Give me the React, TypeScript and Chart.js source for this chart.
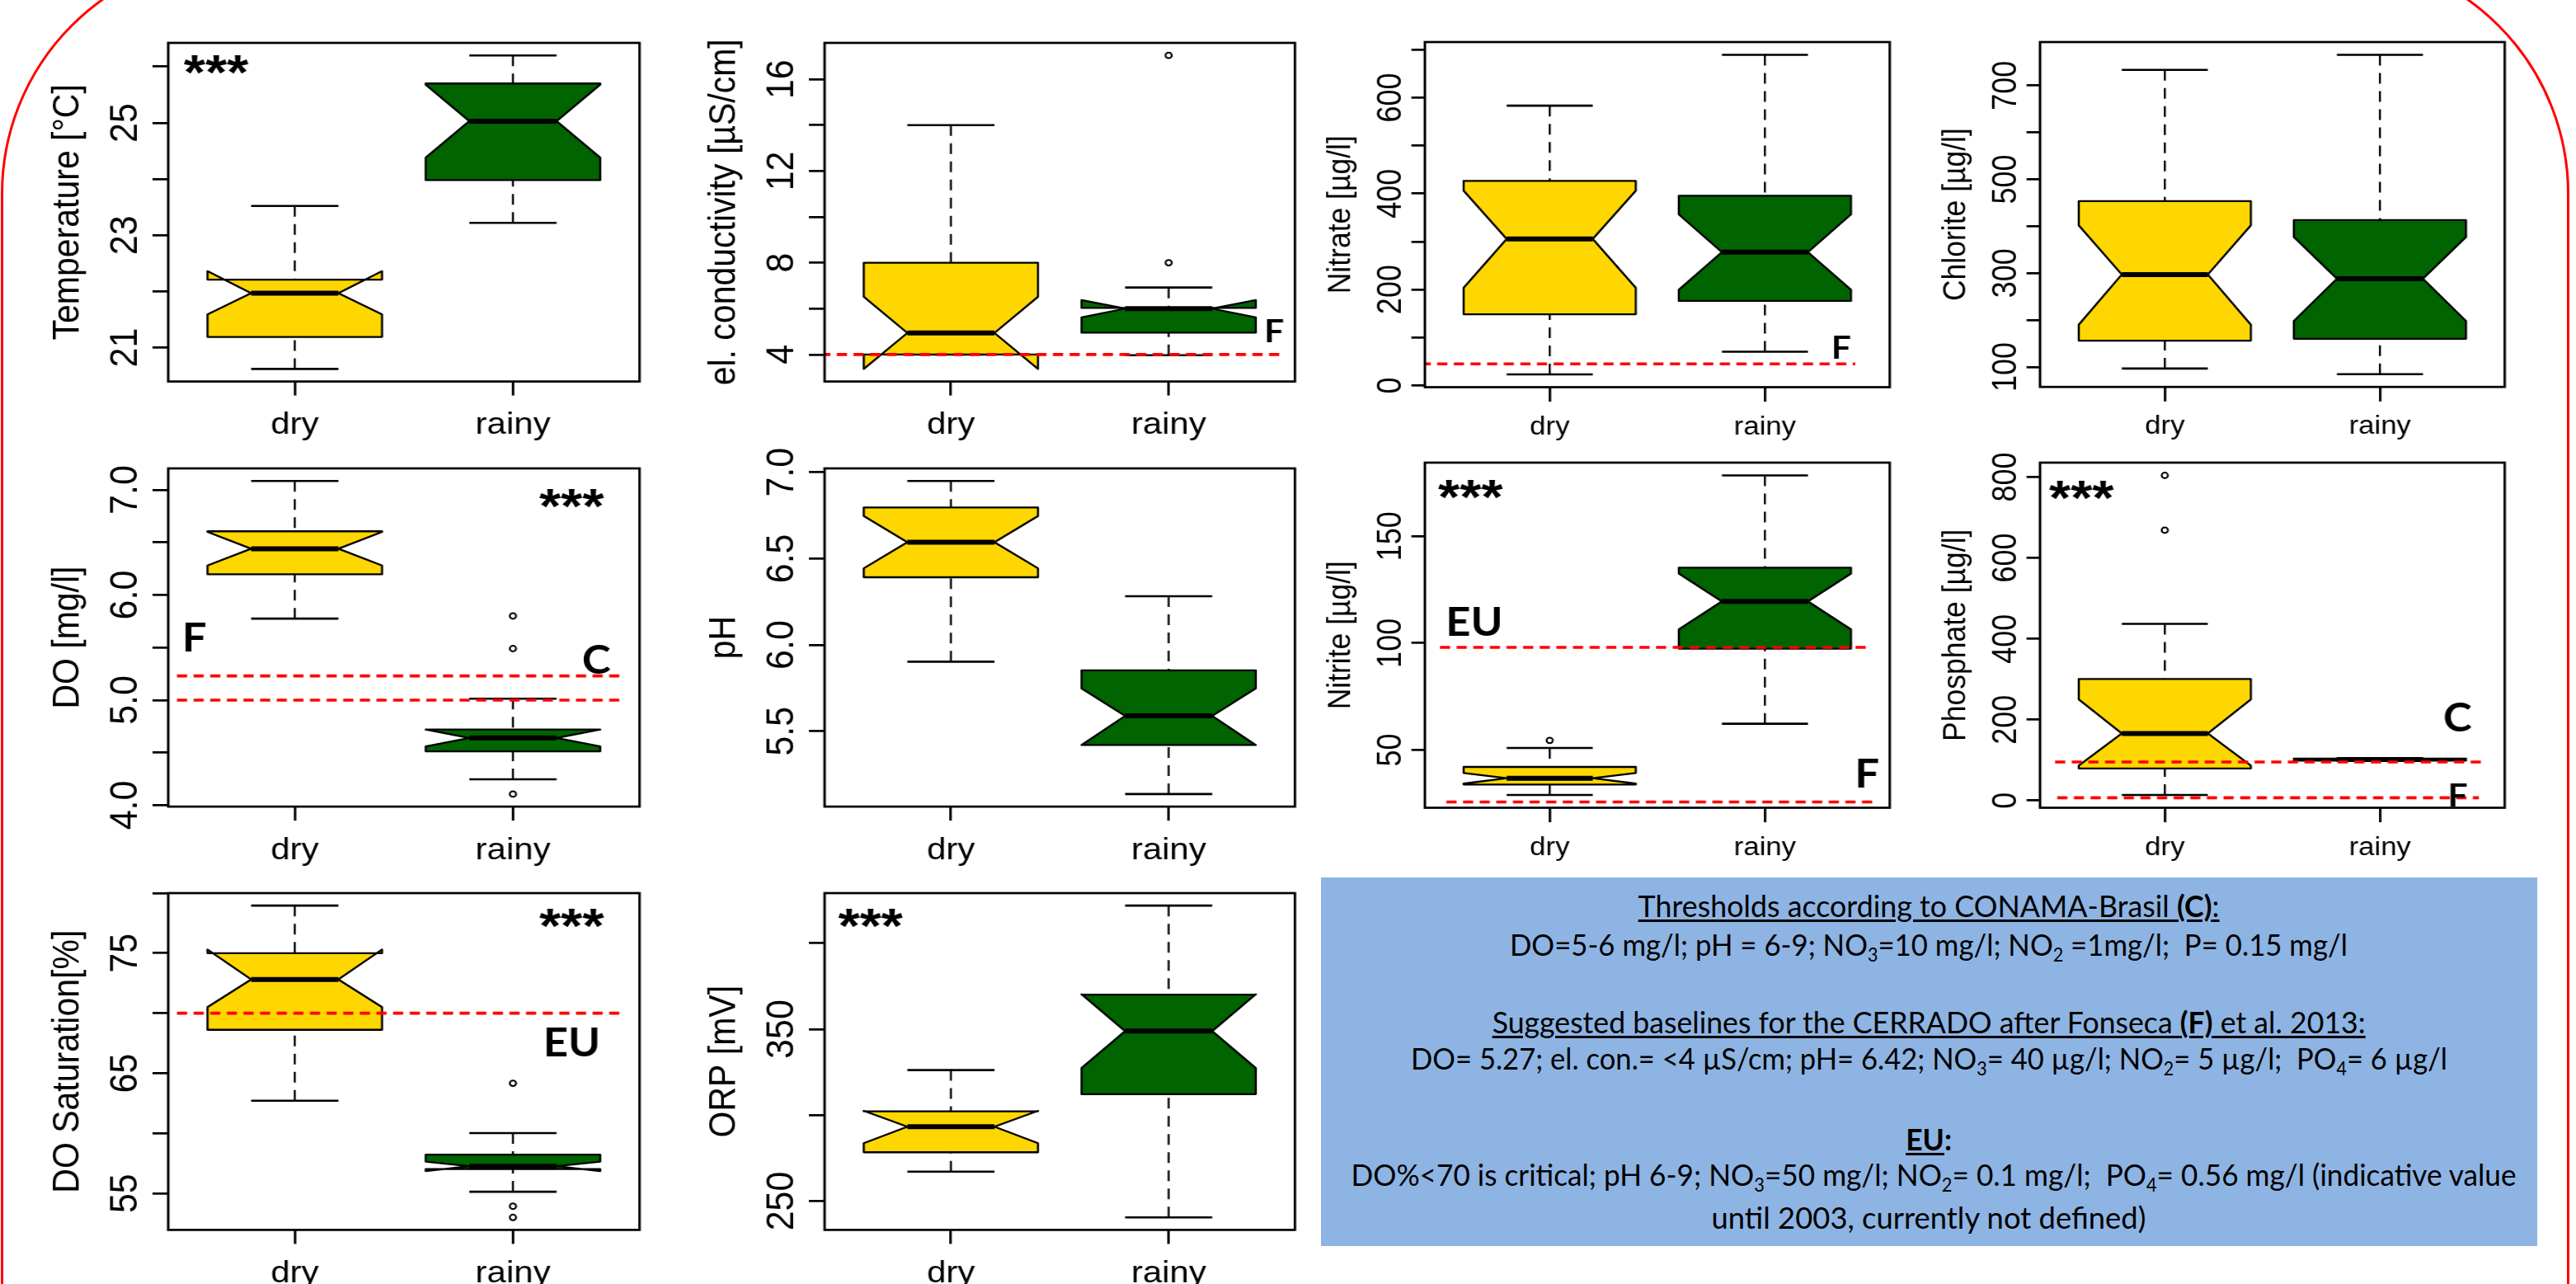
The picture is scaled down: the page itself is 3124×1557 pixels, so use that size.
import React, { useEffect, useLayoutEffect, useRef } from 'react';
import { Chart, registerables } from 'chart.js';

Chart.register(...registerables);

// Horizontal stretch of the R panels in the poster
const STRETCH = 1.12;

const categories = ['dry', 'rainy'];

// Stats per season: [lower whisker, Q1, median, Q3, upper whisker, notch low, notch high]
const temperatureDry = [20.62, 21.19, 21.97, 22.21, 23.52, 21.59, 22.36];
const temperatureRainy = [23.22, 23.98, 25.03, 25.7, 26.2, 24.38, 25.68];
const temperatureOutDry: number[] = [];
const temperatureOutRainy: number[] = [];
const temperatureTicks = [21, 22, 23, 24, 25, 26];
const temperatureTickLabels = ['21', '', '23', '', '25', ''];

const conductivityDry = [4.0, 4.0, 4.94, 8.0, 14.0, 3.37, 6.52];
const conductivityRainy = [3.97, 4.95, 6.0, 6.03, 6.92, 5.62, 6.37];
const conductivityOutDry: number[] = [];
const conductivityOutRainy = [8.0, 17.04];
const conductivityTicks = [4, 6, 8, 10, 12, 14, 16];
const conductivityTickLabels = ['4', '', '8', '', '12', '', '16'];
const conductivityThresholds = [4.0];

const nitrateDry = [23, 148.4, 305.4, 426.5, 583.5, 203.6, 406];
const nitrateRainy = [70.4, 176.2, 278, 395.6, 689.5, 199.5, 356.6];
const nitrateOutDry: number[] = [];
const nitrateOutRainy: number[] = [];
const nitrateTicks = [0, 100, 200, 300, 400, 500, 600, 700];
const nitrateTickLabels = ['0', '', '200', '', '400', '', '600', ''];
const nitrateThresholds = [45];

const chloriteDry = [96.5, 156, 297, 453.5, 733.3, 190, 402];
const chloriteRainy = [84.5, 160, 288, 413, 765.5, 198, 377];
const chloriteOutDry: number[] = [];
const chloriteOutRainy: number[] = [];
const chloriteTicks = [100, 200, 300, 400, 500, 600, 700];
const chloriteTickLabels = ['100', '', '300', '', '500', '', '700'];

const doDry = [5.775, 6.197, 6.44, 6.606, 7.085, 6.28, 6.6];
const doRainy = [4.247, 4.513, 4.64, 4.72, 5.013, 4.56, 4.72];
const doOutDry: number[] = [];
const doOutRainy = [4.106, 5.49, 5.8];
const doTicks = [4, 4.5, 5, 5.5, 6, 6.5, 7];
const doTickLabels = ['4.0', '', '5.0', '', '6.0', '', '7.0'];
const doThresholds = [5.23, 5.0];

const phDry = [5.903, 6.392, 6.595, 6.796, 6.95, 6.444, 6.747];
const phRainy = [5.136, 5.42, 5.589, 5.853, 6.282, 5.42, 5.748];
const phOutDry: number[] = [];
const phOutRainy: number[] = [];
const phTicks = [5.5, 6, 6.5, 7];
const phTickLabels = ['5.5', '6.0', '6.5', '7.0'];

const nitriteDry = [29, 33.9, 36.85, 42.1, 51, 34.3, 39.3];
const nitriteRainy = [62.3, 97.4, 119.5, 135.3, 178.4, 106.4, 132.5];
const nitriteOutDry = [54.5];
const nitriteOutRainy: number[] = [];
const nitriteTicks = [50, 100, 150];
const nitriteTickLabels = ['50', '100', '150'];
const nitriteThresholds = [98, 25.7];

const phosphateDry = [13.9, 79.6, 166, 300.8, 437, 86.5, 250.3];
const phosphateRainy = [98, 99, 101.5, 104, 105, 100, 103];
const phosphateOutDry = [668.5, 804];
const phosphateOutRainy: number[] = [];
const phosphateTicks = [0, 200, 400, 600, 800];
const phosphateTickLabels = ['0', '200', '400', '600', '800'];
const phosphateThresholds = [95.5, 7];

const doSatDry = [62.72, 68.62, 72.81, 75.0, 78.96, 70.51, 75.3];
const doSatRainy = [55.14, 57.03, 57.26, 58.23, 60.02, 56.85, 57.65];
const doSatOutDry: number[] = [];
const doSatOutRainy = [53.0, 53.93, 64.17];
const doSatTicks = [55, 60, 65, 70, 75, 80];
const doSatTickLabels = ['55', '', '65', '', '75', ''];
const doSatThresholds = [70];

const orpDry = [267.1, 278.4, 293.3, 302.2, 326.2, 283.7, 302.5];
const orpRainy = [240.5, 312.2, 348.9, 370.1, 421.9, 327.4, 370.3];
const orpOutDry: number[] = [];
const orpOutRainy: number[] = [];
const orpTicks = [250, 300, 350, 400];
const orpTickLabels = ['250', '', '350', ''];

const GA = { tickFont: 43, titleFont: 41, xFont: 37.5, yTickLen: 17, xTickLen: 17, tickLabelOffset: 34, titleOffset: 97.5, xLabelOffset: 63.5 };
const GB = { tickFont: 36, titleFont: 35.5, xFont: 31, yTickLen: 14.6, xTickLen: 17.6, tickLabelOffset: 26.4, titleOffset: 81.5, xLabelOffset: 57 };

const NOTE_FONTS: any = {
  star: 'bold 60px "Liberation Sans", Arial, sans-serif',
  L: 'bold 47px Lato, "Open Sans", sans-serif',
  S: 'bold 38px Lato, "Open Sans", sans-serif',
};

const PANELS: any[] = [
  { title: 'Temperature [°C]', dry: temperatureDry, rainy: temperatureRainy, outDry: temperatureOutDry, outRainy: temperatureOutRainy,
    ticks: temperatureTicks, tickLabels: temperatureTickLabels, thresholds: [], spans: [],
    notes: [{ text: '***', x: 0.641, y: 26.04, kind: 'star' }], box: { l: 204, t: 52.4, r: 775.5, b: 463 }, g: GA },
  { title: 'el. conductivity [µS/cm]', dry: conductivityDry, rainy: conductivityRainy, outDry: conductivityOutDry, outRainy: conductivityOutRainy,
    ticks: conductivityTicks, tickLabels: conductivityTickLabels, thresholds: conductivityThresholds, spans: [[0.4, 2.52]],
    notes: [{ text: 'F', x: 2.49, y: 5.03, kind: 'S' }], box: { l: 1000, t: 52.4, r: 1570.4, b: 463 }, g: GA },
  { title: 'Nitrate [µg/l]', dry: nitrateDry, rainy: nitrateRainy, outDry: nitrateOutDry, outRainy: nitrateOutRainy,
    ticks: nitrateTicks, tickLabels: nitrateTickLabels, thresholds: nitrateThresholds, spans: [[0.4, 2.42]],
    notes: [{ text: 'F', x: 2.36, y: 80, kind: 'S' }], box: { l: 1728, t: 50.7, r: 2291.7, b: 469.2 }, g: GB },
  { title: 'Chlorite [µg/l]', dry: chloriteDry, rainy: chloriteRainy, outDry: chloriteOutDry, outRainy: chloriteOutRainy,
    ticks: chloriteTicks, tickLabels: chloriteTickLabels, thresholds: [], spans: [],
    notes: [], box: { l: 2474, t: 51, r: 3037.5, b: 469.2 }, g: GB },
  { title: 'DO [mg/l]', dry: doDry, rainy: doRainy, outDry: doOutDry, outRainy: doOutRainy,
    ticks: doTicks, tickLabels: doTickLabels, thresholds: doThresholds, spans: [[0.46, 2.49], [0.46, 2.49]],
    notes: [{ text: '***', x: 2.27, y: 6.92, kind: 'star' }, { text: 'F', x: 0.545, y: 5.6, kind: 'L' }, { text: 'C', x: 2.384, y: 5.39, kind: 'L' }],
    box: { l: 204, t: 568.1, r: 775.5, b: 978.2 }, g: GA },
  { title: 'pH', dry: phDry, rainy: phRainy, outDry: phOutDry, outRainy: phOutRainy,
    ticks: phTicks, tickLabels: phTickLabels, thresholds: [], spans: [],
    notes: [], box: { l: 1000, t: 568.1, r: 1570.4, b: 978.2 }, g: GA },
  { title: 'Nitrite [µg/l]', dry: nitriteDry, rainy: nitriteRainy, outDry: nitriteOutDry, outRainy: nitriteOutRainy,
    ticks: nitriteTicks, tickLabels: nitriteTickLabels, thresholds: nitriteThresholds, spans: [[0.49, 2.49], [0.52, 2.52]],
    notes: [{ text: '***', x: 0.633, y: 172, kind: 'star' }, { text: 'EU', x: 0.65, y: 110, kind: 'L' }, { text: 'F', x: 2.48, y: 39.2, kind: 'L' }],
    box: { l: 1728, t: 560.7, r: 2291.7, b: 979.2 }, g: GB },
  { title: 'Phosphate [µg/l]', dry: phosphateDry, rainy: phosphateRainy, outDry: phosphateOutDry, outRainy: phosphateOutRainy,
    ticks: phosphateTicks, tickLabels: phosphateTickLabels, thresholds: phosphateThresholds, spans: [[0.49, 2.48], [0.5, 2.46]],
    notes: [{ text: '***', x: 0.614, y: 767.5, kind: 'star' }, { text: 'C', x: 2.363, y: 206, kind: 'L' }, { text: 'F', x: 2.367, y: 14, kind: 'S' }],
    box: { l: 2474, t: 560.7, r: 3037.5, b: 979.2 }, g: GB },
  { title: 'DO Saturation[%]', dry: doSatDry, rainy: doSatRainy, outDry: doSatOutDry, outRainy: doSatOutRainy,
    ticks: doSatTicks, tickLabels: doSatTickLabels, thresholds: doSatThresholds, spans: [[0.46, 2.49]],
    notes: [{ text: '***', x: 2.27, y: 77.9, kind: 'star' }, { text: 'EU', x: 2.27, y: 67.6, kind: 'L' }],
    box: { l: 204, t: 1083.1, r: 775.5, b: 1491.5 }, g: GA },
  { title: 'ORP [mV]', dry: orpDry, rainy: orpRainy, outDry: orpOutDry, outRainy: orpOutRainy,
    ticks: orpTicks, tickLabels: orpTickLabels, thresholds: [], spans: [],
    notes: [{ text: '***', x: 0.632, y: 414.4, kind: 'star' }], box: { l: 1000, t: 1083.1, r: 1570.4, b: 1491.5 }, g: GA },
];

const FILLS = ['#FFD700', '#006400'];

function drawBox(ctx: any, xs: any, ys: any, cx: number, st: number[], fill: string) {
  const [lw, q1, med, q3, uw, nlo, nhi] = st;
  const X = (v: number) => xs.getPixelForValue(v);
  const Y = (v: number) => ys.getPixelForValue(v);
  const w = 0.4;
  ctx.save();
  ctx.strokeStyle = '#000';
  ctx.lineCap = 'butt';
  ctx.lineWidth = 2.2;
  ctx.setLineDash([13, 9]);
  ctx.beginPath();
  ctx.moveTo(X(cx), Y(uw)); ctx.lineTo(X(cx), Y(q3));
  ctx.moveTo(X(cx), Y(lw)); ctx.lineTo(X(cx), Y(q1));
  ctx.stroke();
  ctx.setLineDash([]);
  ctx.lineWidth = 2.6;
  ctx.beginPath();
  ctx.moveTo(X(cx - w / 2), Y(uw)); ctx.lineTo(X(cx + w / 2), Y(uw));
  ctx.moveTo(X(cx - w / 2), Y(lw)); ctx.lineTo(X(cx + w / 2), Y(lw));
  ctx.stroke();
  const pts = [[cx - w, q1], [cx - w, nlo], [cx - w / 2, med], [cx - w, nhi], [cx - w, q3],
    [cx + w, q3], [cx + w, nhi], [cx + w / 2, med], [cx + w, nlo], [cx + w, q1]];
  ctx.beginPath();
  pts.forEach(([x, y], i) => (i ? ctx.lineTo(X(x), Y(y)) : ctx.moveTo(X(x), Y(y))));
  ctx.closePath();
  ctx.fillStyle = fill;
  ctx.fill();
  ctx.lineJoin = 'round';
  ctx.lineWidth = 2.3;
  ctx.stroke();
  ctx.lineWidth = 6;
  ctx.beginPath();
  ctx.moveTo(X(cx - w / 2), Y(med)); ctx.lineTo(X(cx + w / 2), Y(med));
  ctx.stroke();
  ctx.restore();
}

function BoxPanel({ p }: { p: any }) {
  const ref = useRef<HTMLCanvasElement | null>(null);
  const ML = 175, MR = 30, MT = 40, MB = 95;
  const boxW = (p.box.r - p.box.l) / STRETCH;
  const boxH = p.box.b - p.box.t;
  const W = Math.ceil(ML + boxW + MR);
  const H = Math.ceil(MT + boxH + MB);
  const padRight = W - ML - boxW;
  const xAxisH = H - MT - boxH;

  useEffect(() => {
    const canvas = ref.current;
    if (!canvas) return;
    const vals = [...p.dry, ...p.rainy, ...p.outDry, ...p.outRainy];
    const lo = Math.min(...vals), hi = Math.max(...vals);
    const pad = (hi - lo) * 0.04;
    const g = p.g;
    const datasets: any[] = p.thresholds.map((y: number, i: number) => ({
      data: [{ x: p.spans[i][0], y }, { x: p.spans[i][1], y }],
      borderColor: '#ff0000', borderWidth: 3.6, borderDash: [11, 7], pointRadius: 0, fill: false, tension: 0,
    }));
    datasets.push({
      data: [...p.outDry.map((y: number) => ({ x: 1, y })), ...p.outRainy.map((y: number) => ({ x: 2, y }))],
      showLine: false, pointRadius: 3.4, pointBorderWidth: 2, pointBorderColor: '#000',
      pointBackgroundColor: 'rgba(255,255,255,0)', borderColor: '#000', backgroundColor: 'rgba(255,255,255,0)',
    });
    const font = (s: number) => `${s}px "Liberation Sans", Arial, sans-serif`;
    const plugin = {
      id: 'notchedBoxes',
      beforeDatasetsDraw(chart: any) {
        const { ctx } = chart;
        const xs = chart.scales.x, ys = chart.scales.y;
        const a = chart.chartArea;
        ctx.save();
        ctx.beginPath();
        ctx.rect(a.left, a.top, a.right - a.left, a.bottom - a.top);
        ctx.clip();
        drawBox(ctx, xs, ys, 1, p.dry, FILLS[0]);
        drawBox(ctx, xs, ys, 2, p.rainy, FILLS[1]);
        ctx.restore();
      },
      afterDraw(chart: any) {
        const { ctx } = chart;
        const a = chart.chartArea;
        const xs = chart.scales.x, ys = chart.scales.y;
        ctx.save();
        ctx.strokeStyle = '#000';
        ctx.lineWidth = 2.7;
        ctx.strokeRect(a.left, a.top, a.right - a.left, a.bottom - a.top);
        ctx.fillStyle = '#000';
        ctx.textAlign = 'center';
        ctx.textBaseline = 'alphabetic';
        ctx.font = font(g.tickFont);
        p.ticks.forEach((v: number, i: number) => {
          const lab = p.tickLabels[i];
          if (!lab) return;
          ctx.save();
          ctx.translate(a.left - g.tickLabelOffset, ys.getPixelForValue(v));
          ctx.rotate(-Math.PI / 2);
          ctx.fillText(lab, 0, 0);
          ctx.restore();
        });
        ctx.font = font(g.titleFont);
        ctx.save();
        ctx.translate(a.left - g.titleOffset, (a.top + a.bottom) / 2);
        ctx.rotate(-Math.PI / 2);
        ctx.fillText(p.title, 0, 0);
        ctx.restore();
        ctx.font = font(g.xFont);
        categories.forEach((c, i) => ctx.fillText(c, xs.getPixelForValue(i + 1), a.bottom + g.xLabelOffset));
        ctx.textAlign = 'left';
        p.notes.forEach((n: any) => {
          ctx.font = NOTE_FONTS[n.kind];
          const m = ctx.measureText(n.text);
          const px = xs.getPixelForValue(n.x), py = ys.getPixelForValue(n.y);
          const x = px - (m.actualBoundingBoxRight - m.actualBoundingBoxLeft) / 2;
          const y = py + (m.actualBoundingBoxAscent - m.actualBoundingBoxDescent) / 2;
          ctx.fillText(n.text, x, y);
        });
        ctx.restore();
      },
    };
    const grid = (len: number) => ({
      display: true, drawOnChartArea: false, drawTicks: true, tickLength: len, color: '#000', lineWidth: 2.7,
    });
    const chart = new Chart(canvas, {
      type: 'line',
      data: { datasets },
      options: {
        animation: false,
        responsive: false,
        devicePixelRatio: 1,
        events: [],
        layout: { padding: { top: MT, right: padRight, bottom: 0, left: 0 } },
        plugins: { legend: { display: false }, tooltip: { enabled: false } },
        scales: {
          x: {
            type: 'linear', min: 0.42, max: 2.58,
            afterBuildTicks: (s: any) => { s.ticks = [{ value: 1 }, { value: 2 }]; },
            afterFit: (s: any) => { s.height = xAxisH; },
            ticks: { display: false },
            grid: grid(g.xTickLen),
            border: { display: false },
          },
          y: {
            type: 'linear', min: lo - pad, max: hi + pad,
            afterBuildTicks: (s: any) => { s.ticks = p.ticks.map((v: number) => ({ value: v })); },
            afterFit: (s: any) => { s.width = ML; },
            ticks: { display: false },
            grid: grid(g.yTickLen),
            border: { display: false },
          },
        },
      } as any,
      plugins: [plugin as any],
    });
    let alive = true;
    (document as any).fonts?.ready?.then(() => { if (alive) chart.draw(); });
    return () => { alive = false; chart.destroy(); };
  }, [p]);

  return (
    <div style={{ position: 'absolute', left: p.box.l - ML * STRETCH, top: p.box.t - MT, width: W, height: H,
      transform: `scaleX(${STRETCH})`, transformOrigin: '0 0' }}>
      <canvas ref={ref} width={W} height={H} style={{ display: 'block', width: W, height: H }} />
    </div>
  );
}

const INFO = { left: 1601.7, top: 1063.6, width: 1475.1, height: 447.1 };
const LINE_BASELINES = [1112, 1159, 1253, 1297, 1394.5, 1438, 1490];
const LINE_WIDTHS = [705, 1016, 1059, 1257, 56, 1413, 527];
const FS = 37;

const subStyle: any = { fontSize: '0.62em', position: 'relative', top: '0.28em', verticalAlign: 'baseline' };
const ul: any = { textDecoration: 'underline', textDecorationThickness: '2.5px', textUnderlineOffset: '3px' };

function InfoBox() {
  const refs = useRef<(HTMLSpanElement | null)[]>([]);
  useLayoutEffect(() => {
    const fit = () => {
      refs.current.forEach((el, i) => {
        if (!el) return;
        el.style.transform = 'none';
        const w = el.getBoundingClientRect().width;
        if (w > 0) el.style.transform = `scaleX(${LINE_WIDTHS[i] / w})`;
      });
    };
    fit();
    (document as any).fonts?.ready?.then(fit);
  }, []);
  const S = (t: string) => <sub style={subStyle}>{t}</sub>;
  const lines = [
    <span style={ul}>Thresholds according to CONAMA-Brasil <b>(C)</b>:</span>,
    <span>DO=5-6 mg/l; pH = 6-9; NO{S('3')}=10 mg/l; NO{S('2')} =1mg/l;  P= 0.15 mg/l</span>,
    <span style={ul}>Suggested baselines for the CERRADO after Fonseca <b>(F)</b> et al. 2013:</span>,
    <span>DO= 5.27; el. con.= &lt;4 µS/cm; pH= 6.42; NO{S('3')}= 40 µg/l; NO{S('2')}= 5 µg/l;  PO{S('4')}= 6 µg/l</span>,
    <span><b style={ul}>EU</b><b>:</b></span>,
    <span>DO%&lt;70 is critical; pH 6-9; NO{S('3')}=50 mg/l; NO{S('2')}= 0.1 mg/l;  PO{S('4')}= 0.56 mg/l (indicative value</span>,
    <span>until 2003, currently not defined)</span>,
  ];
  return (
    <div style={{ position: 'absolute', left: INFO.left, top: INFO.top, width: INFO.width, height: INFO.height,
      background: '#8EB4E3', fontFamily: 'Lato, "Open Sans", sans-serif', fontSize: FS, color: '#000' }}>
      {lines.map((content, i) => (
        <div key={i} style={{ position: 'absolute', left: 0, width: '100%', top: LINE_BASELINES[i] - INFO.top - 0.887 * FS,
          height: FS, lineHeight: `${FS}px`, textAlign: 'center', whiteSpace: 'pre' }}>
          <span ref={(el) => { refs.current[i] = el; }} style={{ display: 'inline-block', transformOrigin: '50% 50%' }}>
            {content}
          </span>
        </div>
      ))}
    </div>
  );
}

export default function App() {
  return (
    <div style={{ position: 'fixed', left: 0, top: 0, width: 3124, height: 1557, overflow: 'hidden', background: '#fff' }}>
      <div style={{ position: 'absolute', left: 1, top: -55, width: 3115, height: 2000, border: '3px solid #ff0000',
        borderRadius: 290, boxSizing: 'border-box' }} />
      {PANELS.map((p, i) => <BoxPanel key={i} p={p} />)}
      <InfoBox />
    </div>
  );
}
